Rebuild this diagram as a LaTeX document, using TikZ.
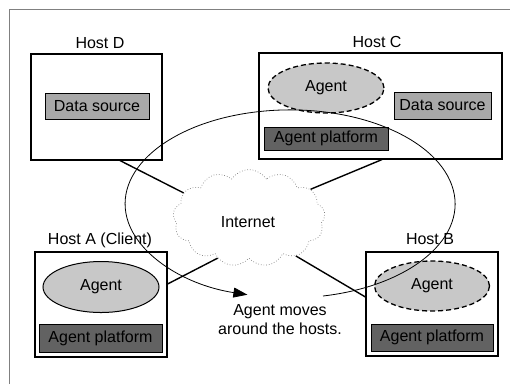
\documentclass[tikz,border=0pt]{standalone}
\usepackage{fontspec}
\setmainfont{Liberation Sans}
\usetikzlibrary{shapes.symbols,shapes.geometric,arrows.meta}
\definecolor{dsgray}{HTML}{A8A8A8}
\definecolor{apgray}{HTML}{626262}
\definecolor{aggray}{HTML}{C8C8C8}
\tikzset{
  hostbox/.style={draw, line width=1.1pt, minimum width=#1, inner sep=0pt},
  dsbox/.style={draw, line width=0.9pt, fill=dsgray, inner sep=0pt, minimum height=26, minimum width=#1},
  apbox/.style={draw, line width=0.9pt, fill=apgray, inner sep=0pt, minimum height=26, minimum width=#1},
  agentsolid/.style={ellipse, draw, line width=1pt, fill=aggray, minimum width=116, minimum height=51, inner sep=0pt},
  agentdash/.style={ellipse, draw, line width=1.3pt, dash pattern=on 5pt off 3pt, fill=aggray, minimum width=116, minimum height=50, inner sep=0pt},
  hostlabel/.style={inner sep=0pt},
  link/.style={line width=1.4pt},
  netcloud/.style={cloud, cloud puffs=13, cloud puff arc=115, draw=gray, dotted, line width=0.7pt, minimum width=152, minimum height=97, inner sep=0pt},
  framelines/.style={draw=gray, line width=0.9pt},
  motion/.style={line width=0.8pt, -{Triangle[length=14pt,width=10pt]}}
}
\begin{document}
\begin{tikzpicture}[x=1pt,y=-1pt, font=\fontsize{16}{19}\selectfont]
\useasboundingbox (0,0) rectangle (513,384);
% partial outer frame
\coordinate (fbl) at (9,384);
\coordinate (ftl) at (9,9);
\coordinate (ftr) at (510,9);
\draw[framelines] (fbl) -- (ftl) -- (ftr);

% Host D
\node[hostbox=131, minimum height=106] (hostD) at (96.5,107) {};
\node[hostlabel] (labD) at (100,43) {Host D};
\node[dsbox=104] (dsD) at (97,106) {Data source};

% Host C
\node[hostbox=243, minimum height=106] (hostC) at (380.5,106) {};
\node[hostlabel] (labC) at (377,42) {Host C};
\node[agentdash] (agC) at (326,88) {Agent};
\node[dsbox=97, minimum height=27] (dsC) at (442.5,105.5) {Data source};
\node[apbox=124, minimum height=23] (apC) at (326,138.5) {Agent platform};

% Host A
\node[hostbox=132, minimum height=105] (hostA) at (101,304.5) {};
\node[hostlabel] (labA) at (100,240) {Host A (Client)};
\node[agentsolid] (agA) at (101,287) {Agent};
\node[apbox=123, minimum height=28] (apA) at (100.5,338) {Agent platform};

% Host B
\node[hostbox=132, minimum height=104] (hostB) at (432,304) {};
\node[hostlabel] (labB) at (430,239) {Host B};
\node[agentdash, minimum width=115] (agB) at (432,286) {Agent};
\node[apbox=122, minimum height=27] (apB) at (432,337.5) {Agent platform};

% Internet cloud
\node[netcloud] (net) at (249,218) {};
\node[inner sep=0pt] (netlab) at (248,222) {Internet};

% links
\draw[link] ([xshift=23.5pt]hostD.south) -- (net.159);
\draw[link] ([xshift=1.5pt]hostC.south) -- (net.25);
\draw[link] ([yshift=20.5pt]hostA.east) -- (net.232);
\draw[link] ([yshift=7pt]hostB.west) -- (net.321);

% agent movement path
\coordinate (pathstart) at (323,296);
\draw[motion] (pathstart) arc[start angle=78.5, end angle=-255, x radius=165, y radius=94];
\node[align=center, inner sep=0pt] (movetext) at (280,320) {Agent moves\\around the hosts.};
\end{tikzpicture}
\end{document}
